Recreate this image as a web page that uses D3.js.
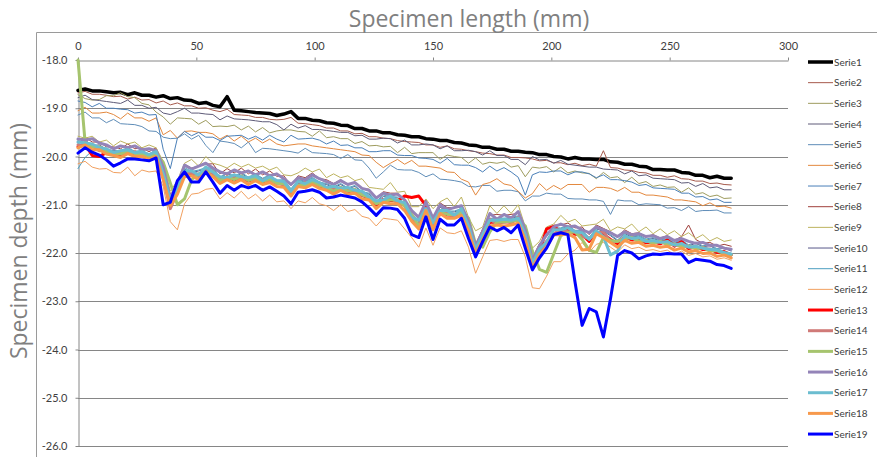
<!DOCTYPE html>
<html>
<head>
<meta charset="utf-8">
<script src="https://cdn.jsdelivr.net/npm/d3@7"></script>
<style>
  body { margin: 0; background: #ffffff; }
  svg { display: block; }
  text { font-family: "Open Sans", "Noto Sans", sans-serif; }
</style>
</head>
<body>
<svg id="chart" width="877" height="457"></svg>
<script>
// Sample positions along the specimen (mm)
const lengthMm = d3.range(0, 277, 3);

const xTicks = [0, 50, 100, 150, 200, 250, 300];
const yTicks = [-18, -19, -20, -21, -22, -23, -24, -25, -26];

const seriesNames = ["Serie1", "Serie2", "Serie3", "Serie4", "Serie5", "Serie6", "Serie7",
  "Serie8", "Serie9", "Serie10", "Serie11", "Serie12", "Serie13", "Serie14", "Serie15",
  "Serie16", "Serie17", "Serie18", "Serie19"];

// Depth profiles (mm), one value per sample position
const serie1 = [
  -18.63, -18.60, -18.64, -18.64, -18.66, -18.68, -18.67, -18.72, -18.68, -18.73,
  -18.73, -18.77, -18.74, -18.80, -18.78, -18.83, -18.84, -18.90, -18.88, -18.94,
  -18.97, -18.76, -19.04, -19.05, -19.07, -19.09, -19.10, -19.11, -19.15, -19.12,
  -19.07, -19.21, -19.21, -19.25, -19.26, -19.30, -19.31, -19.35, -19.36, -19.42,
  -19.42, -19.47, -19.47, -19.51, -19.51, -19.55, -19.56, -19.59, -19.59, -19.63,
  -19.64, -19.67, -19.67, -19.71, -19.72, -19.76, -19.77, -19.81, -19.81, -19.85,
  -19.85, -19.89, -19.89, -19.91, -19.92, -19.96, -19.96, -20.00, -20.01, -20.05,
  -20.02, -20.05, -20.05, -20.06, -20.06, -20.11, -20.12, -20.16, -20.16, -20.20,
  -20.21, -20.27, -20.27, -20.28, -20.28, -20.33, -20.34, -20.39, -20.39, -20.44,
  -20.41, -20.45, -20.45];
const serie2 = [
  -18.68, -18.65, -18.71, -18.71, -18.73, -18.76, -18.75, -18.81, -18.77, -18.83,
  -18.82, -18.89, -18.85, -18.93, -18.89, -18.95, -18.95, -19.00, -18.99, -19.04,
  -19.07, -19.02, -19.13, -19.14, -19.15, -19.19, -19.19, -19.23, -19.24, -19.23,
  -19.19, -19.31, -19.32, -19.34, -19.36, -19.41, -19.41, -19.47, -19.47, -19.53,
  -19.52, -19.59, -19.59, -19.62, -19.63, -19.67, -19.69, -19.70, -19.71, -19.76,
  -19.76, -19.81, -19.78, -19.84, -19.85, -19.88, -19.90, -19.93, -19.94, -19.97,
  -19.97, -20.02, -20.02, -20.03, -20.05, -20.09, -20.08, -20.13, -20.13, -20.17,
  -20.14, -20.19, -20.16, -20.20, -19.88, -20.23, -20.24, -20.28, -20.29, -20.33,
  -20.34, -20.39, -20.39, -20.43, -20.40, -20.46, -20.47, -20.51, -20.51, -20.56,
  -20.55, -20.58, -20.59];
const serie3 = [
  -18.72, -18.80, -18.83, -18.82, -18.74, -18.74, -18.68, -18.76, -18.78, -18.90,
  -18.93, -19.08, -19.18, -19.33, -19.20, -19.21, -19.22, -19.33, -19.25, -19.38,
  -19.37, -19.38, -19.35, -19.45, -19.37, -19.49, -19.40, -19.51, -19.47, -19.45,
  -19.45, -19.48, -19.49, -19.58, -19.47, -19.61, -19.59, -19.63, -19.63, -19.73,
  -19.69, -19.78, -19.77, -19.80, -19.79, -19.92, -19.81, -19.94, -19.92, -19.92,
  -19.92, -20.06, -19.97, -20.00, -20.02, -20.14, -20.03, -20.16, -20.12, -20.14,
  -20.11, -20.22, -20.19, -20.42, -20.22, -20.24, -20.21, -20.32, -20.22, -20.34,
  -20.30, -20.34, -20.35, -20.46, -20.33, -20.44, -20.42, -20.54, -20.43, -20.56,
  -20.52, -20.62, -20.59, -20.64, -20.63, -20.74, -20.65, -20.78, -20.75, -20.83,
  -20.80, -20.87, -20.86];
const serie4 = [
  -18.78, -18.73, -18.82, -18.84, -18.86, -18.88, -18.90, -18.83, -18.94, -18.94,
  -19.00, -18.98, -19.10, -19.13, -19.07, -19.00, -19.10, -19.10, -19.12, -19.13,
  -19.24, -19.16, -19.22, -19.23, -19.24, -19.26, -19.28, -19.28, -19.34, -19.45,
  -19.33, -19.41, -19.36, -19.44, -19.44, -19.46, -19.48, -19.50, -19.50, -19.57,
  -19.56, -19.64, -19.64, -19.62, -19.63, -19.72, -19.66, -19.76, -19.76, -19.74,
  -19.76, -19.84, -19.78, -19.88, -19.88, -19.87, -19.90, -19.97, -19.88, -19.98,
  -19.98, -20.06, -20.06, -20.17, -20.00, -20.07, -20.06, -20.14, -20.08, -20.16,
  -20.18, -20.20, -20.22, -20.22, -20.26, -20.27, -20.28, -20.36, -20.30, -20.40,
  -20.38, -20.45, -20.46, -20.47, -20.48, -20.55, -20.54, -20.62, -20.56, -20.65,
  -20.63, -20.69, -20.69];
const serie5 = [
  -19.14, -19.08, -19.20, -19.20, -19.30, -19.23, -19.32, -19.33, -19.34, -19.38,
  -19.47, -19.48, -19.60, -19.63, -19.62, -19.53, -19.64, -19.56, -19.77, -19.92,
  -19.68, -19.70, -19.73, -19.82, -19.70, -19.92, -19.83, -19.84, -19.86, -19.88,
  -19.90, -19.93, -19.83, -19.92, -19.93, -19.94, -19.96, -20.04, -19.96, -20.07,
  -20.08, -20.24, -20.45, -20.32, -20.18, -20.27, -20.28, -20.28, -20.33, -20.42,
  -20.36, -20.47, -20.48, -20.50, -20.53, -20.62, -20.63, -20.60, -20.60, -20.72,
  -20.70, -20.70, -20.73, -20.92, -20.82, -20.82, -20.76, -20.78, -20.78, -20.87,
  -20.88, -20.88, -20.90, -20.90, -20.93, -21.20, -20.90, -20.92, -20.92, -21.00,
  -20.98, -20.99, -21.00, -21.07, -21.06, -21.12, -21.04, -21.14, -21.12, -21.12,
  -21.11, -21.17, -21.17];
const serie6 = [
  -19.05, -18.98, -19.10, -19.10, -19.08, -19.13, -19.22, -19.10, -19.20, -19.20,
  -19.27, -19.20, -19.55, -19.46, -19.62, -19.48, -19.47, -19.50, -19.50, -19.53,
  -19.64, -19.56, -19.68, -19.58, -19.70, -19.62, -19.72, -19.64, -19.74, -19.78,
  -19.76, -19.74, -19.74, -19.78, -19.80, -19.82, -19.84, -19.86, -19.88, -19.90,
  -19.97, -19.98, -20.12, -20.23, -20.14, -20.06, -20.16, -20.08, -20.20, -20.20,
  -20.22, -20.24, -20.32, -20.33, -20.47, -20.53, -20.80, -20.58, -20.54, -20.46,
  -20.57, -20.60, -20.72, -20.86, -20.77, -20.56, -20.70, -20.60, -20.68, -20.58,
  -20.58, -20.58, -20.74, -20.64, -20.64, -20.66, -20.72, -20.64, -20.74, -20.74,
  -20.80, -20.80, -20.82, -20.84, -20.90, -20.90, -20.92, -20.94, -21.02, -20.96,
  -21.04, -21.03, -21.07];
const serie7 = [
  -18.85, -18.88, -18.97, -18.90, -19.00, -19.00, -19.02, -19.03, -19.10, -19.08,
  -19.14, -19.13, -19.85, -20.25, -19.62, -19.48, -19.57, -19.50, -19.60, -19.60,
  -19.67, -19.58, -19.57, -19.56, -19.64, -19.58, -19.66, -19.56, -19.64, -19.70,
  -19.56, -19.64, -19.63, -19.62, -19.66, -19.74, -19.68, -19.77, -19.76, -19.82,
  -19.82, -19.90, -19.90, -19.88, -19.88, -19.97, -19.98, -19.98, -20.03, -20.04,
  -20.06, -20.14, -20.04, -20.17, -20.18, -20.18, -20.23, -20.32, -20.20, -20.30,
  -20.23, -20.32, -20.43, -20.80, -20.38, -20.32, -20.33, -20.30, -20.30, -20.38,
  -20.32, -20.32, -20.36, -20.44, -20.38, -20.48, -20.48, -20.50, -20.53, -20.60,
  -20.58, -20.65, -20.66, -20.67, -20.68, -20.76, -20.76, -20.84, -20.83, -20.90,
  -20.88, -20.95, -20.95];
const serie8 = [
  -19.66, -19.60, -19.70, -19.70, -19.80, -19.80, -19.84, -19.74, -19.84, -19.82,
  -19.90, -19.82, -20.26, -20.78, -20.64, -20.16, -20.24, -20.20, -20.16, -20.15,
  -20.36, -20.25, -20.34, -20.24, -20.36, -20.26, -20.38, -20.30, -20.41, -20.40,
  -20.60, -20.40, -20.44, -20.34, -20.46, -20.48, -20.56, -20.48, -20.58, -20.53,
  -20.66, -20.68, -20.86, -20.73, -20.76, -20.76, -20.92, -21.10, -21.26, -20.90,
  -21.32, -20.96, -21.06, -21.06, -21.02, -21.30, -21.82, -21.50, -21.22, -21.20,
  -21.22, -21.20, -21.18, -21.50, -22.12, -21.80, -21.66, -21.42, -21.42, -21.38,
  -21.48, -21.46, -21.62, -21.42, -21.49, -21.56, -21.66, -21.52, -21.60, -21.58,
  -21.66, -21.62, -21.69, -21.64, -21.74, -21.66, -21.42, -21.72, -21.80, -21.78,
  -21.86, -21.82, -21.86];
const serie9 = [
  -19.58, -19.62, -19.58, -19.70, -19.66, -19.78, -19.68, -19.74, -19.70, -19.82,
  -19.76, -19.82, -20.10, -20.72, -20.50, -20.14, -20.06, -20.20, -20.00, -20.14,
  -20.18, -20.24, -20.14, -20.22, -20.16, -20.24, -20.20, -20.28, -20.22, -20.38,
  -20.40, -20.34, -20.24, -20.32, -20.26, -20.44, -20.36, -20.44, -20.40, -20.50,
  -20.46, -20.64, -20.66, -20.68, -20.54, -20.74, -20.72, -21.04, -21.04, -20.88,
  -21.08, -20.94, -20.86, -21.04, -20.84, -21.26, -21.54, -21.46, -21.02, -21.18,
  -21.02, -21.18, -21.00, -21.46, -21.90, -21.76, -21.46, -21.40, -21.22, -21.36,
  -21.30, -21.44, -21.42, -21.40, -21.30, -21.54, -21.46, -21.50, -21.40, -21.56,
  -21.46, -21.60, -21.50, -21.62, -21.54, -21.66, -21.58, -21.70, -21.62, -21.75,
  -21.68, -21.76, -21.73];
const serie10 = [
  -19.72, -19.66, -19.77, -19.76, -19.85, -19.88, -19.89, -19.82, -19.91, -19.88,
  -19.95, -19.88, -20.35, -20.86, -20.71, -20.26, -20.33, -20.30, -20.25, -20.26,
  -20.45, -20.35, -20.43, -20.35, -20.45, -20.38, -20.47, -20.40, -20.51, -20.50,
  -20.69, -20.50, -20.53, -20.45, -20.55, -20.58, -20.65, -20.58, -20.67, -20.62,
  -20.75, -20.78, -20.95, -20.83, -20.85, -20.86, -20.99, -21.20, -21.35, -21.00,
  -21.39, -21.05, -21.15, -21.15, -21.10, -21.40, -21.89, -21.60, -21.30, -21.30,
  -21.30, -21.28, -21.25, -21.60, -22.18, -21.90, -21.75, -21.50, -21.50, -21.45,
  -21.55, -21.55, -21.69, -21.50, -21.55, -21.64, -21.75, -21.60, -21.67, -21.65,
  -21.73, -21.70, -21.75, -21.72, -21.80, -21.75, -21.85, -21.80, -21.87, -21.85,
  -21.93, -21.90, -21.96];
const serie11 = [
  -20.25, -20.02, -19.88, -19.78, -19.87, -19.88, -19.91, -19.82, -19.89, -19.88,
  -19.95, -19.86, -20.33, -20.83, -20.68, -20.23, -20.31, -20.28, -20.23, -20.24,
  -20.43, -20.33, -20.41, -20.33, -20.43, -20.36, -20.45, -20.38, -20.49, -20.48,
  -20.67, -20.48, -20.51, -20.43, -20.53, -20.56, -20.63, -20.56, -20.65, -20.60,
  -20.73, -20.76, -20.93, -20.80, -20.83, -20.84, -20.98, -21.18, -21.33, -20.98,
  -21.37, -21.03, -21.13, -21.13, -21.08, -21.38, -21.88, -21.58, -21.28, -21.28,
  -21.28, -21.26, -21.23, -21.58, -22.18, -21.88, -21.73, -21.48, -21.48, -21.43,
  -21.53, -21.53, -21.68, -21.48, -21.53, -21.62, -21.73, -21.58, -21.65, -21.63,
  -21.71, -21.68, -21.73, -21.70, -21.78, -21.73, -21.83, -21.78, -21.85, -21.83,
  -21.91, -21.88, -21.94];
const serie12 = [
  -20.15, -20.10, -20.22, -20.26, -20.25, -20.33, -20.34, -20.22, -20.40, -20.28,
  -20.32, -20.30, -20.62, -21.35, -21.52, -20.98, -20.78, -20.76, -20.68, -20.66,
  -20.88, -20.75, -20.86, -20.72, -20.88, -20.78, -20.92, -20.80, -20.94, -20.92,
  -21.08, -20.92, -20.96, -20.85, -20.98, -21.02, -21.12, -21.00, -21.14, -21.10,
  -21.24, -21.28, -21.44, -21.28, -21.30, -21.32, -21.50, -21.68, -21.88, -21.48,
  -21.84, -21.48, -21.58, -21.60, -21.54, -21.88, -22.42, -22.08, -21.74, -21.72,
  -21.76, -21.72, -21.72, -22.08, -22.72, -22.74, -22.48, -22.18, -22.18, -22.02,
  -21.94, -21.78, -21.98, -21.82, -21.78, -21.88, -21.98, -21.83, -21.91, -21.88,
  -21.95, -21.93, -21.97, -21.94, -22.03, -21.96, -22.05, -22.01, -22.08, -22.06,
  -22.13, -22.10, -22.15];
const serie13 = [
  -19.80, -19.75, -19.98, -20.00, -19.92, -19.95, -19.96, -19.90, -19.96, -19.95,
  -20.01, -19.95, -20.40, -20.90, -20.74, -20.32, -20.39, -20.37, -20.31, -20.33,
  -20.51, -20.42, -20.49, -20.42, -20.51, -20.45, -20.53, -20.47, -20.56, -20.57,
  -20.76, -20.57, -20.59, -20.52, -20.61, -20.65, -20.71, -20.65, -20.73, -20.69,
  -20.81, -20.85, -21.01, -20.89, -20.91, -20.92, -20.82, -20.85, -20.82, -21.02,
  -21.46, -21.12, -21.21, -21.22, -21.16, -21.47, -21.96, -21.67, -21.36, -21.37,
  -21.36, -21.35, -21.31, -21.67, -22.26, -21.97, -21.50, -21.45, -21.56, -21.52,
  -21.61, -21.62, -21.76, -21.57, -21.61, -21.72, -21.81, -21.67, -21.73, -21.72,
  -21.79, -21.77, -21.81, -21.73, -21.86, -21.76, -21.91, -21.87, -21.93, -21.92,
  -21.99, -21.97, -22.04];
const serie14 = [
  -19.76, -19.78, -19.78, -19.88, -19.86, -19.96, -19.92, -19.94, -19.90, -19.98,
  -19.96, -20.00, -20.44, -21.08, -20.74, -20.36, -20.34, -20.42, -20.26, -20.36,
  -20.46, -20.46, -20.44, -20.48, -20.46, -20.50, -20.48, -20.52, -20.52, -20.60,
  -20.72, -20.60, -20.54, -20.56, -20.56, -20.68, -20.66, -20.70, -20.68, -20.74,
  -20.76, -20.88, -20.96, -20.94, -20.86, -20.96, -21.02, -21.32, -21.40, -21.10,
  -21.42, -21.16, -21.16, -21.26, -21.12, -21.54, -21.98, -21.70, -21.30, -21.40,
  -21.32, -21.38, -21.26, -21.74, -22.26, -22.00, -21.76, -21.60, -21.52, -21.56,
  -21.56, -21.66, -21.70, -21.60, -21.56, -21.76, -21.76, -21.70, -21.68, -21.76,
  -21.74, -21.80, -21.76, -21.82, -21.82, -21.86, -21.86, -21.90, -21.88, -21.94,
  -21.95, -22.00, -22.03];
const serie15 = [
  -18.00, -19.70, -19.80, -19.80, -19.90, -19.93, -19.95, -19.88, -19.94, -19.94,
  -20.00, -19.94, -20.12, -20.55, -21.00, -20.88, -20.48, -20.36, -20.33, -20.30,
  -20.50, -20.42, -20.48, -20.40, -20.50, -20.44, -20.52, -20.46, -20.56, -20.56,
  -20.72, -20.60, -20.60, -20.52, -20.60, -20.64, -20.72, -20.64, -20.72, -20.68,
  -20.80, -20.84, -20.98, -20.92, -20.90, -20.90, -21.02, -21.20, -21.44, -21.28,
  -21.36, -21.16, -21.20, -21.20, -21.17, -21.28, -21.82, -21.88, -21.56, -21.36,
  -21.36, -21.34, -21.32, -21.44, -21.96, -22.34, -22.40, -22.02, -21.64, -21.58,
  -21.56, -21.72, -21.94, -21.99, -21.68, -21.74, -21.76, -21.70, -21.68, -21.76,
  -21.74, -21.80, -21.76, -21.82, -21.82, -21.86, -21.86, -21.91, -21.89, -21.96,
  -21.95, -22.01, -22.03];
const serie16 = [
  -19.64, -19.66, -19.63, -19.72, -19.76, -19.84, -19.78, -19.82, -19.78, -19.86,
  -19.84, -19.88, -20.22, -20.88, -20.58, -20.18, -20.26, -20.20, -20.14, -20.24,
  -20.32, -20.36, -20.28, -20.34, -20.30, -20.38, -20.32, -20.40, -20.36, -20.46,
  -20.58, -20.44, -20.48, -20.38, -20.46, -20.52, -20.58, -20.50, -20.58, -20.54,
  -20.66, -20.70, -20.86, -20.76, -20.80, -20.78, -20.90, -21.12, -21.26, -20.94,
  -21.28, -21.00, -21.10, -21.06, -21.02, -21.34, -21.86, -21.55, -21.18, -21.30,
  -21.20, -21.28, -21.14, -21.52, -22.15, -21.85, -21.62, -21.46, -21.40, -21.46,
  -21.44, -21.52, -21.58, -21.46, -21.52, -21.58, -21.66, -21.56, -21.62, -21.60,
  -21.66, -21.64, -21.70, -21.66, -21.74, -21.70, -21.76, -21.80, -21.78, -21.84,
  -21.84, -21.90, -21.92];
const serie17 = [
  -19.70, -19.72, -19.74, -19.82, -19.84, -19.92, -19.88, -19.86, -19.92, -19.90,
  -19.96, -19.90, -20.36, -20.90, -20.66, -20.30, -20.30, -20.38, -20.22, -20.32,
  -20.42, -20.44, -20.38, -20.42, -20.44, -20.40, -20.50, -20.42, -20.50, -20.52,
  -20.72, -20.52, -20.56, -20.48, -20.54, -20.64, -20.62, -20.66, -20.64, -20.70,
  -20.72, -20.84, -20.92, -20.90, -20.82, -20.92, -20.96, -21.26, -21.32, -21.08,
  -21.38, -21.12, -21.12, -21.22, -21.08, -21.44, -21.92, -21.62, -21.32, -21.32,
  -21.30, -21.32, -21.28, -21.62, -22.22, -21.92, -21.78, -21.52, -21.52, -21.48,
  -21.56, -21.58, -21.72, -21.54, -21.66, -22.04, -21.96, -21.64, -21.70, -21.68,
  -21.76, -21.74, -21.78, -21.76, -21.84, -21.80, -21.88, -21.86, -21.90, -21.92,
  -21.94, -21.99, -22.02];
const serie18 = [
  -19.82, -19.76, -19.86, -19.86, -19.95, -19.98, -20.02, -19.94, -20.00, -20.00,
  -20.06, -20.00, -20.48, -21.02, -20.78, -20.42, -20.40, -20.48, -20.33, -20.42,
  -20.56, -20.48, -20.55, -20.48, -20.58, -20.50, -20.58, -20.54, -20.62, -20.64,
  -20.82, -20.62, -20.65, -20.58, -20.66, -20.70, -20.78, -20.70, -20.78, -20.76,
  -20.88, -20.90, -21.08, -20.95, -20.98, -20.98, -21.12, -21.34, -21.50, -21.12,
  -21.52, -21.18, -21.28, -21.28, -21.22, -21.54, -22.02, -21.72, -21.44, -21.42,
  -21.44, -21.42, -21.38, -21.72, -22.32, -22.02, -21.88, -21.62, -21.62, -21.60,
  -21.68, -21.94, -21.92, -21.60, -21.68, -21.78, -21.88, -21.74, -21.80, -21.78,
  -21.86, -21.84, -21.88, -21.86, -21.94, -21.90, -21.98, -21.95, -22.01, -22.00,
  -22.07, -22.04, -22.10];
const serie19 = [
  -19.93, -19.82, -19.91, -19.97, -20.07, -20.20, -20.13, -20.05, -20.05, -20.07,
  -20.09, -20.03, -21.00, -20.95, -20.50, -20.32, -20.53, -20.53, -20.32, -20.53,
  -20.76, -20.60, -20.70, -20.60, -20.65, -20.60, -20.70, -20.63, -20.72, -20.82,
  -20.98, -20.74, -20.72, -20.69, -20.74, -20.86, -20.84, -20.80, -20.83, -20.86,
  -20.94, -21.07, -21.22, -21.06, -21.07, -21.10, -21.28, -21.62, -21.68, -21.25,
  -21.72, -21.30, -21.42, -21.42, -21.28, -21.70, -22.08, -21.76, -21.46, -21.54,
  -21.47, -21.58, -21.42, -21.90, -22.35, -22.10, -21.90, -21.62, -21.58, -21.62,
  -22.60, -23.50, -23.15, -23.22, -23.74, -22.95, -22.05, -21.95, -22.00, -22.12,
  -22.06, -22.02, -22.03, -22.01, -22.02, -22.02, -22.20, -22.13, -22.15, -22.17,
  -22.24, -22.26, -22.32];

// Stroke styles per series
const seriesColors = ["#000000", "#a65a4c", "#9e9c5e", "#5e5b78", "#5f8db8", "#e3883e",
  "#4a7fb8", "#a0403c", "#bdb35e", "#57578a", "#4d9ec0", "#f1a060",
  "#ff0000", "#d07a78", "#a6c46e", "#9484b8", "#6bbdd0", "#f7994c", "#0000ff"];
const seriesWidths = [3.5, 1, 1, 1, 1, 1, 1, 1, 1, 1, 1, 1, 3, 3, 3, 3, 3, 3, 3];

const seriesValues = [serie1, serie2, serie3, serie4, serie5, serie6, serie7, serie8,
  serie9, serie10, serie11, serie12, serie13, serie14, serie15, serie16, serie17,
  serie18, serie19];

const series = seriesNames.map((name, i) => ({
  name,
  values: seriesValues[i],
  color: seriesColors[i],
  width: seriesWidths[i]
}));

const svg = d3.select("#chart");
const axisGray = "#868686";

svg.append("rect").attr("width", 877).attr("height", 457).attr("fill", "#ffffff");

// Frame of the chart area
svg.append("path")
  .attr("d", "M36.5,457 V32.5 H877")
  .attr("fill", "none")
  .attr("stroke", "#9a9a9a")
  .attr("stroke-width", 1);

const x = d3.scaleLinear().domain([0, 300]).range([78, 788]);
const y = d3.scaleLinear().domain([-18, -26]).range([60, 446]);

// Horizontal gridlines
svg.append("g")
  .selectAll("line")
  .data(yTicks.filter(v => v !== -18))
  .join("line")
  .attr("x1", x(0)).attr("x2", x(300))
  .attr("y1", d => Math.round(y(d)) + 0.5).attr("y2", d => Math.round(y(d)) + 0.5)
  .attr("stroke", axisGray)
  .attr("stroke-width", 1);

// Top x axis
const xAxis = svg.append("g")
  .attr("transform", `translate(0,${Math.round(y(-18)) + 0.5})`)
  .call(d3.axisTop(x).tickValues(xTicks).tickSize(3).tickSizeOuter(0).tickPadding(8)
    .tickFormat(d => String(d)));
xAxis.select(".domain").attr("stroke", axisGray);
xAxis.selectAll(".tick line").attr("stroke", axisGray);
xAxis.selectAll(".tick text")
  .attr("fill", "#404040")
  .style("font-size", "11px")
  .style("font-family", "Lato, 'Open Sans', sans-serif");

// Left y axis
const yAxis = svg.append("g")
  .attr("transform", `translate(${Math.round(x(0)) + 0.5},0)`)
  .call(d3.axisLeft(y).tickValues(yTicks).tickSize(3).tickSizeOuter(0).tickPadding(8)
    .tickFormat(d => d.toFixed(1)));
yAxis.select(".domain").attr("stroke", axisGray);
yAxis.selectAll(".tick line").attr("stroke", axisGray);
yAxis.selectAll(".tick text")
  .attr("fill", "#404040")
  .style("font-size", "11px")
  .style("font-family", "Lato, 'Open Sans', sans-serif");

// Profile lines
const line = d3.line()
  .x((d, i) => x(lengthMm[i]))
  .y(d => y(d));

svg.append("g")
  .selectAll("path")
  .data(series)
  .join("path")
  .attr("d", d => line(d.values))
  .attr("fill", "none")
  .attr("stroke", d => d.color)
  .attr("stroke-width", d => d.width)
  .attr("stroke-linejoin", "round")
  .attr("stroke-linecap", "round");

// Legend
const legend = svg.append("g")
  .selectAll("g")
  .data(series)
  .join("g")
  .attr("transform", (d, i) => `translate(0,${62 + i * 20.67})`);
legend.append("line")
  .attr("x1", 808).attr("x2", 833)
  .attr("y1", 0).attr("y2", 0)
  .attr("stroke", d => d.color)
  .attr("stroke-width", d => d.width);
legend.append("text")
  .attr("x", 834).attr("y", 3.5)
  .attr("fill", "#404040")
  .style("font-size", "10px")
  .style("font-family", "Lato, 'Open Sans', sans-serif")
  .text(d => d.name);

// Axis titles
svg.append("text")
  .attr("x", 469).attr("y", 27)
  .attr("text-anchor", "middle")
  .attr("fill", "#808080")
  .style("font-size", "23px")
  .text("Specimen length (mm)");

svg.append("text")
  .attr("transform", "translate(27,241) rotate(-90)")
  .attr("text-anchor", "middle")
  .attr("fill", "#808080")
  .style("font-size", "23px")
  .text("Specimen depth (mm)");
</script>
</body>
</html>
